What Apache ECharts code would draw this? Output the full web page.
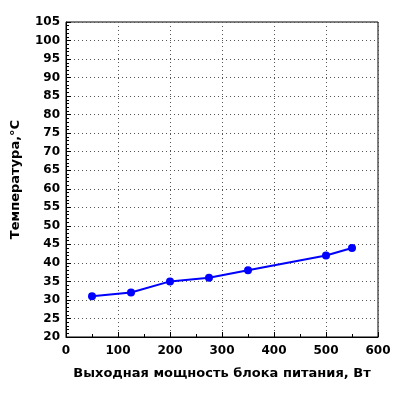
<!DOCTYPE html>
<html>
<head>
<meta charset="utf-8">
<script src="https://cdn.jsdelivr.net/npm/echarts@6/dist/echarts.min.js"></script>
<style>html,body{margin:0;padding:0;background:#fff}#chart{width:400px;height:400px}</style>
</head>
<body>
<div id="chart"></div>
<script>
const powerW = [50, 125, 200, 275, 350, 500, 550]
const tempC = [31, 32, 35, 36, 38, 42, 44]
const xTitle = 'Выходная мощность блока питания, Вт'
const yTitle = 'Температура,°С'

let chart = echarts.init(document.getElementById('chart'))
const font = 'DejaVu Sans'
const label = { color: '#000', fontFamily: font, fontWeight: 'bold', fontSize: 12 }

chart.setOption({
    animation: false,
    grid: { left: 66, right: 22, top: 22, bottom: 63, show: true, borderColor: '#000', borderWidth: 1 },
    xAxis: {
        type: 'value', min: 0, max: 600, interval: 100,
        name: xTitle, nameLocation: 'middle', nameGap: 30,
        nameTextStyle: { ...label, fontSize: 13 },
        axisLine: { lineStyle: { color: '#000' } },
        axisTick: { inside: true, length: 5, lineStyle: { color: '#000' } },
        minorTick: { show: true, splitNumber: 2, length: 3, lineStyle: { color: '#000' } },
        axisLabel: { ...label, margin: 8 },
        splitLine: { lineStyle: { color: '#555', type: [1, 3] } }
    },
    yAxis: {
        type: 'value', min: 20, max: 105, interval: 5,
        name: yTitle, nameLocation: 'middle', nameGap: 44,
        nameTextStyle: { ...label, fontSize: 13 },
        axisLine: { lineStyle: { color: '#000' } },
        axisTick: { inside: true, length: 5, lineStyle: { color: '#000' } },
        minorTick: { show: true, splitNumber: 5, length: 3, lineStyle: { color: '#000' } },
        axisLabel: { ...label, margin: 6 },
        splitLine: { lineStyle: { color: '#555', type: [1, 3] } }
    },
    series: [{
        type: 'line',
        data: powerW.map((x, i) => [x, tempC[i]]),
        symbol: 'circle', symbolSize: 8,
        lineStyle: { color: '#0000ff', width: 2 },
        itemStyle: { color: '#0000ff' }
    }]
})
</script>
</body>
</html>
